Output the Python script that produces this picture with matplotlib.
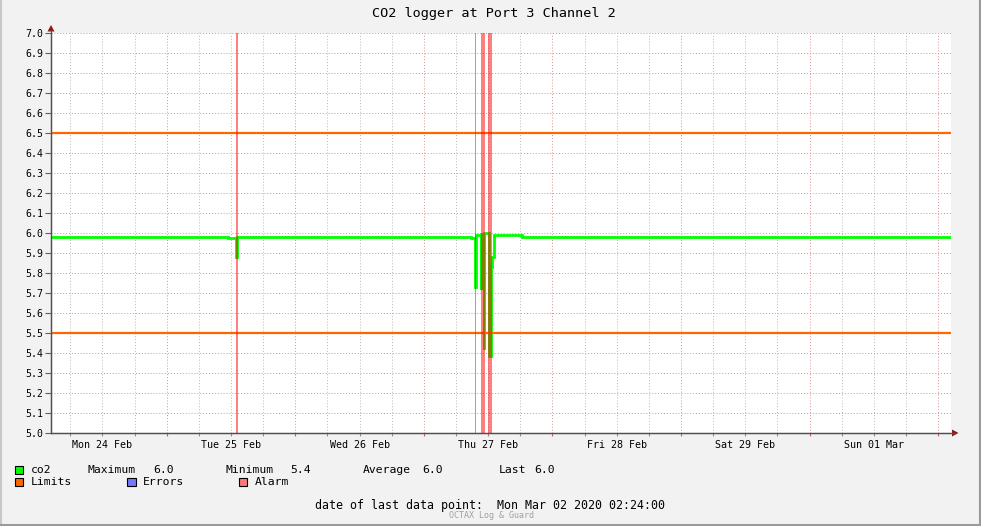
import matplotlib
matplotlib.use("Agg")
import matplotlib.pyplot as plt
import matplotlib.dates as mdates
from matplotlib.patches import Rectangle, Polygon
from matplotlib.lines import Line2D
from datetime import datetime, timedelta

# ---------------- data ----------------
title = "CO2 logger at Port 3 Channel 2"
start_time = datetime(2020, 2, 24, 2, 24)
end_time = datetime(2020, 3, 2, 2, 24)

# hours after start_time, and measured co2 values
co2_hours = [
    0, 2, 4, 6, 8, 10, 12, 14, 16, 18, 20, 22, 24, 26, 28, 30, 32,
    33.0, 34.2, 34.49, 34.72, 34.9,
    36, 38, 40, 42, 44, 46, 48, 50, 52, 54, 56, 58, 60, 62, 64, 66, 68, 70, 72, 74, 76, 78,
    78.4, 79.17, 79.26, 80.28, 80.31, 80.88, 80.9, 81.72, 82.06, 82.4, 82.7,
    84, 86, 88, 90, 92, 94, 96, 98, 100, 102, 104, 106, 108, 110, 112, 114, 116,
    118, 120, 122, 124, 126, 128, 130, 132, 134, 136, 138, 140, 142, 144, 146, 148,
    150, 152, 154, 156, 158, 160, 162, 164, 166, 168,
]
co2_values = [
    5.981, 5.979, 5.981, 5.980, 5.979, 5.981, 5.980, 5.980, 5.979, 5.981, 5.979, 5.980, 5.981, 5.979, 5.981, 5.980, 5.979,
    5.975, 5.973, 5.880, 5.978, 5.980,
    5.981, 5.979, 5.980, 5.979, 5.981, 5.980, 5.979, 5.980, 5.979, 5.981, 5.979, 5.980, 5.981, 5.979, 5.980, 5.979, 5.981, 5.979, 5.980, 5.979, 5.980, 5.978,
    5.976, 5.730, 5.988, 5.720, 5.996, 5.420, 5.998, 5.385, 5.830, 5.880, 5.992,
    5.991, 5.990, 5.982, 5.980, 5.981, 5.979, 5.980, 5.981, 5.979, 5.980, 5.981, 5.979, 5.981, 5.980, 5.979, 5.981, 5.980,
    5.981, 5.979, 5.981, 5.980, 5.979, 5.980, 5.981, 5.980, 5.979, 5.981, 5.980, 5.979, 5.981, 5.980, 5.979, 5.980,
    5.981, 5.980, 5.979, 5.981, 5.979, 5.979, 5.981, 5.979, 5.980, 5.981,
]

limit_values = [5.5, 6.5]
# alarm periods (start hour, end hour)
alarm_periods = [(34.46, 34.9), (79.1, 79.33), (80.27, 80.55), (80.7, 80.95), (81.57, 82.32)]

stat_labels = ["Maximum", "Minimum", "Average", "Last"]
stat_values = [6.0, 5.4, 6.0, 6.0]
legend_names = ["co2", "Limits", "Errors", "Alarm"]
last_point_text = "date of last data point:  Mon Mar 02 2020 02:24:00"
footer_brand = "OCTAX Log & Guard"

# ---------------- style ----------------
W, H = 981, 526
BG = "#f2f2f2"
GREEN = "#00ff00"
ORANGE = "#ff6600"
BLUE = "#7777ff"
PINK = "#ff7777"
MONO = "DejaVu Sans Mono"

fig = plt.figure(figsize=(W / 100, H / 100), dpi=100, facecolor=BG)

def fx(px):
    return px / W

def fy(py):
    return 1 - py / H

ax = fig.add_axes([fx(51), fy(433), (951 - 51) / W, 400 / H])
ax.set_facecolor("white")

times = [start_time + timedelta(hours=h) for h in co2_hours]
ax.plot(times, co2_values, color=GREEN, lw=2.0, drawstyle="steps-post", zorder=3,
        solid_joinstyle="miter")

for lv in limit_values:
    ax.axhline(lv, color=ORANGE, lw=1.6, zorder=4)

for a, b in alarm_periods:
    ax.axvspan(start_time + timedelta(hours=a), start_time + timedelta(hours=b),
               color="red", alpha=0.5, lw=0, zorder=5)

ax.set_xlim(start_time, end_time)
ax.set_ylim(5.0, 7.0)

# y ticks
yt = [5.0 + 0.1 * i for i in range(21)]
ax.set_yticks(yt)
ax.set_yticklabels([f"{v:.1f}" for v in yt], fontfamily=MONO, fontsize=7.1)
ax.tick_params(axis="y", length=4, width=0.8, color="#606060", pad=1.5)

# x ticks
ax.xaxis.set_major_locator(mdates.HourLocator(byhour=[0]))
ax.xaxis.set_minor_locator(mdates.HourLocator(byhour=[6, 12, 18]))
ax.xaxis.set_major_formatter(mdates.DateFormatter(""))

def minor_fmt(x, pos=None):
    d = mdates.num2date(x)
    if d.hour == 12:
        return d.strftime("%a %d %b")
    return ""

ax.xaxis.set_minor_formatter(plt.FuncFormatter(minor_fmt))
ax.tick_params(axis="x", which="both", length=2, width=0.8, pad=3, labelsize=7.2)
ax.tick_params(axis="x", which="major", color="#d06060")
ax.tick_params(axis="x", which="minor", color="#909090")
for lab in ax.get_xticklabels(minor=True):
    lab.set_fontfamily(MONO)

ax.grid(True, axis="y", which="major", color="#d89090", lw=0.7, ls=(0, (1, 2)), zorder=1)
ax.grid(True, axis="x", which="major", color="#d89090", lw=0.7, ls=(0, (1, 2)), zorder=1)
ax.grid(True, axis="x", which="minor", color="#b8b8b8", lw=0.7, ls=(0, (1, 2)), zorder=1)
ax.set_axisbelow(True)

for s in ["top", "right"]:
    ax.spines[s].set_visible(False)
ax.spines["left"].set_color("#505050")
ax.spines["bottom"].set_color("#505050")
ax.spines["left"].set_linewidth(0.9)
ax.spines["bottom"].set_linewidth(0.9)

# axis extension + arrows
fig.add_artist(Line2D([fx(51), fx(51)], [fy(433), fy(30)], color="#505050", lw=0.9))
fig.add_artist(Line2D([fx(51), fx(954)], [fy(433), fy(433)], color="#505050", lw=0.9))
fig.add_artist(Polygon([[fx(47.5), fy(31.5)], [fx(54.5), fy(31.5)], [fx(51), fy(25)]],
                       closed=True, transform=fig.transFigure, color="#8b1a1a", lw=0))
fig.add_artist(Polygon([[fx(952), fy(429.5)], [fx(952), fy(436.5)], [fx(958.5), fy(433)]],
                       closed=True, transform=fig.transFigure, color="#8b1a1a", lw=0))

# title
fig.text(fx(494), fy(14), title, ha="center", va="center", fontfamily=MONO, fontsize=9.7)

# legend row 1
def square(x, y, color):
    fig.add_artist(Rectangle((fx(x), fy(y + 8)), 8 / W, 8 / H, transform=fig.transFigure,
                             facecolor=color, edgecolor="black", lw=0.8))

LFS = 8.2
square(15, 466, GREEN)
fig.text(fx(30.5), fy(470), legend_names[0], ha="left", va="center", fontfamily=MONO, fontsize=LFS)
label_x = [88, 226, 363, 499]
value_x = [153, 290, 422, 534]
for lbl, val, lx, vx in zip(stat_labels, stat_values, label_x, value_x):
    fig.text(fx(lx), fy(470), lbl, ha="left", va="center", fontfamily=MONO, fontsize=LFS)
    fig.text(fx(vx), fy(470), f"{val:.1f}", ha="left", va="center", fontfamily=MONO, fontsize=LFS)

# legend row 2
for name, col, sx in zip(legend_names[1:], [ORANGE, BLUE, PINK], [15, 127.5, 239]):
    square(sx, 478, col)
    fig.text(fx(sx + 15.5), fy(482), name, ha="left", va="center", fontfamily=MONO, fontsize=LFS)

# footer
fig.text(fx(315), fy(506), last_point_text, ha="left", va="center", fontfamily=MONO, fontsize=8.4)
fig.text(fx(492), fy(515.5), footer_brand, ha="center", va="center", fontfamily=MONO,
         fontsize=6, color="#a0a0a0")

# frame
fig.add_artist(Line2D([fx(0.5), fx(0.5)], [0, 1], color="#c8c8c8", lw=1.5))
fig.add_artist(Line2D([fx(979.5), fx(979.5)], [fy(525), 1], color="#9a9a9a", lw=1.5))
fig.add_artist(Line2D([0, fx(980)], [fy(524.5), fy(524.5)], color="#9a9a9a", lw=1.5))

fig.savefig("out.png", dpi=100, facecolor=BG)
